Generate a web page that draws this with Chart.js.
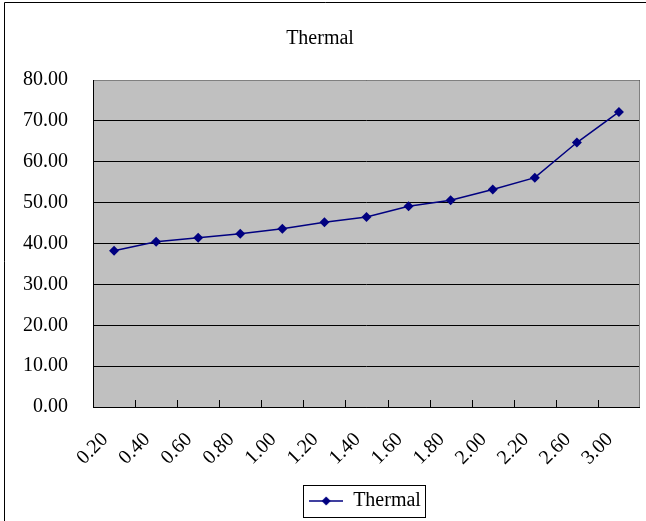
<!DOCTYPE html>
<html>
<head>
<meta charset="utf-8">
<script src="https://cdn.jsdelivr.net/npm/chart.js@4.4.1/dist/chart.umd.min.js"></script>
<style>
  html, body { margin: 0; padding: 0; background: #fff; }
  #wrap { position: relative; width: 646px; height: 521px; }
</style>
</head>
<body>
<div id="wrap"><canvas id="mainChart" width="646" height="521"></canvas></div>
<script>
// chart data
const categories = ['0.20', '0.40', '0.60', '0.80', '1.00', '1.20', '1.40', '1.60', '1.80', '2.00', '2.20', '2.60', '3.00'];
const thermal = [38.2, 40.4, 41.4, 42.4, 43.6, 45.2, 46.5, 49.1, 50.6, 53.2, 56.1, 64.7, 72.2];
const yTicks = [0, 10, 20, 30, 40, 50, 60, 70, 80];

const FONT = "'Liberation Serif', 'DejaVu Serif', serif";
const NAVY = '#000080';

// legend symbol: short line with a diamond in the middle
function legendSymbol() {
    const c = document.createElement('canvas');
    c.width = 34; c.height = 12;
    const g = c.getContext('2d');
    g.strokeStyle = NAVY; g.lineWidth = 1.5;
    g.beginPath(); g.moveTo(0, 6); g.lineTo(34, 6); g.stroke();
    g.fillStyle = NAVY;
    g.beginPath(); g.moveTo(17, 1.5); g.lineTo(21.5, 6); g.lineTo(17, 10.5); g.lineTo(12.5, 6); g.closePath(); g.fill();
    return c;
}

// gray plot area, frame, inside tick marks, legend box, outer border
const excelLook = {
    id: 'excelLook',
    afterLayout(chart) {
        // Excel put the legend a bit right of centre
        chart.legend.left += 45;
        chart.legend.right += 45;
    },
    beforeDraw(chart) {
        const {ctx, chartArea: a} = chart;
        ctx.save();
        ctx.fillStyle = '#c0c0c0';
        ctx.fillRect(a.left, a.top, a.right - a.left, a.bottom - a.top);
        ctx.restore();
    },
    afterDraw(chart) {
        const {ctx, chartArea: a} = chart;
        const x = chart.scales.x;
        ctx.save();
        ctx.lineWidth = 1;
        // top + right frame (gray)
        ctx.strokeStyle = '#808080';
        ctx.beginPath();
        ctx.moveTo(a.left, a.top + 0.5); ctx.lineTo(a.right - 0.5, a.top + 0.5); ctx.lineTo(a.right - 0.5, a.bottom);
        ctx.stroke();
        // axes (black)
        ctx.strokeStyle = '#000';
        ctx.beginPath();
        ctx.moveTo(a.left + 0.5, a.top); ctx.lineTo(a.left + 0.5, a.bottom + 0.5); ctx.lineTo(a.right, a.bottom + 0.5);
        ctx.stroke();
        // x tick marks between categories, pointing up into the plot
        const half = (x.getPixelForValue(1) - x.getPixelForValue(0)) / 2;
        ctx.beginPath();
        for (let i = 1; i < categories.length; i++) {
            const px = Math.round(x.getPixelForValue(i) - half) + 0.5;
            ctx.moveTo(px, a.bottom); ctx.lineTo(px, a.bottom - 7);
        }
        ctx.stroke();
        // legend box
        const hb = chart.legend.legendHitBoxes[0];
        if (hb) {
            ctx.strokeStyle = '#000';
            ctx.strokeRect(Math.round(hb.left - 6) + 0.5, Math.round(hb.top - 6) + 0.5, Math.round(hb.width + 10), Math.round(hb.height + 12));
        }
        // outer chart border (left and top visible)
        ctx.beginPath();
        ctx.moveTo(4.5, 521); ctx.lineTo(4.5, 2.5); ctx.lineTo(646, 2.5);
        ctx.stroke();
        ctx.restore();
    }
};

const ctx = document.getElementById('mainChart').getContext('2d');
new Chart(ctx, {
    type: 'line',
    data: {
        labels: categories,
        datasets: [{
            label: 'Thermal',
            data: thermal,
            borderColor: NAVY,
            backgroundColor: NAVY,
            borderWidth: 1.5,
            pointStyle: 'rectRot',
            pointRadius: 5,
            pointBackgroundColor: NAVY,
            pointBorderColor: NAVY,
            pointBorderWidth: 0,
            tension: 0
        }]
    },
    options: {
        responsive: false,
        animation: false,
        devicePixelRatio: 1,
        layout: { padding: { left: 0, right: 6, top: 0, bottom: 0 } },
        plugins: {
            title: {
                display: true,
                text: 'Thermal',
                color: '#000',
                font: { family: FONT, size: 20, weight: 'normal' },
                padding: { top: 27, bottom: 29 }
            },
            legend: {
                display: true,
                position: 'bottom',
                labels: {
                    color: '#000',
                    font: { family: FONT, size: 20 },
                    usePointStyle: true,
                    pointStyle: legendSymbol(),
                    pointStyleWidth: 34,
                    padding: 1
                }
            },
            tooltip: { enabled: false }
        },
        scales: {
            x: {
                offset: true,
                grid: { display: false },
                border: { display: false },
                afterFit(scale) {
                    scale.height = 83;
                    scale.paddingRight = 0;
                    scale.paddingLeft = 0;
                },
                ticks: {
                    color: '#000',
                    font: { family: FONT, size: 20 },
                    minRotation: 45,
                    maxRotation: 45,
                    autoSkip: false,
                    padding: 13,
                    labelOffset: -9
                }
            },
            y: {
                min: 0,
                max: 80,
                afterFit(scale) { scale.width = 93; },
                afterBuildTicks(scale) { scale.ticks = yTicks.map(v => ({ value: v })); },
                grid: { color: '#000', lineWidth: 1, drawTicks: false },
                border: { display: false },
                ticks: {
                    color: '#000',
                    font: { family: FONT, size: 20 },
                    padding: 25,
                    callback: v => Number(v).toFixed(2)
                }
            }
        }
    },
    plugins: [excelLook]
});
</script>
</body>
</html>
